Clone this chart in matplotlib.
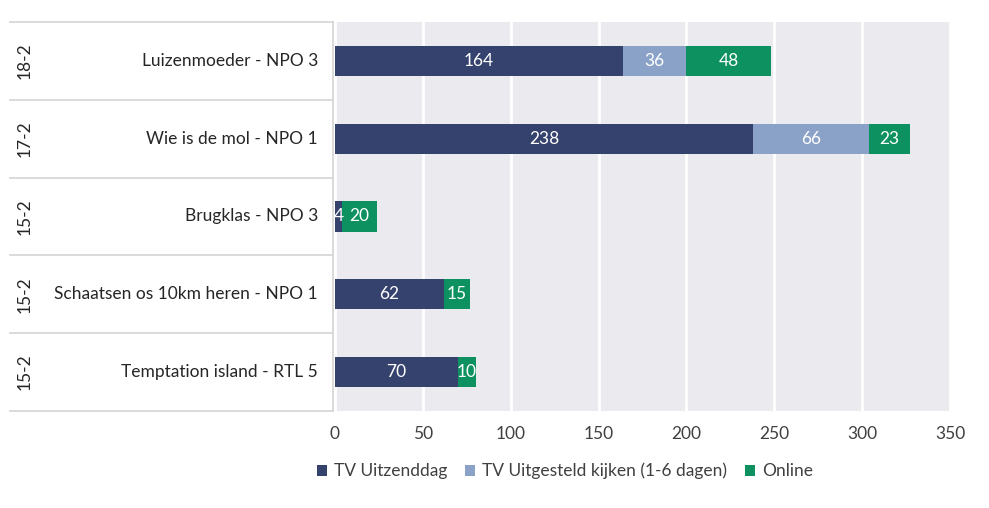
import matplotlib.pyplot as plt
from matplotlib.transforms import blended_transform_factory
from matplotlib.lines import Line2D

# data (top to bottom)
programmas = ["Luizenmoeder - NPO 3", "Wie is de mol - NPO 1", "Brugklas - NPO 3",
              "Schaatsen os 10km heren - NPO 1", "Temptation island - RTL 5"]
datums = ["18-2", "17-2", "15-2", "15-2", "15-2"]
uitzenddag = [164, 238, 4, 62, 70]
uitgesteld = [36, 66, 0, 0, 0]
online = [48, 23, 20, 15, 10]

series = ["TV Uitzenddag", "TV Uitgesteld kijken (1-6 dagen)", "Online"]
kleuren = ["#36426e", "#8aa2c8", "#0e9160"]

plt.rcParams['font.family'] = ['Lato', 'DejaVu Sans']

fig = plt.figure(figsize=(9.89, 5.08), dpi=100)
ax = fig.add_axes([0.3387, 0.191, 0.6219, 0.7657])
ax.set_facecolor("#ebebef")

n = len(programmas)
ypos = list(range(n))[::-1]
links = [0] * n
for waarden, naam, kleur in zip([uitzenddag, uitgesteld, online], series, kleuren):
    ax.barh(ypos, waarden, left=links, height=0.39, color=kleur, label=naam, zorder=3)
    for y, l, w in zip(ypos, links, waarden):
        if w > 0:
            ax.text(l + w / 2, y, str(w), ha="center", va="center", color="white",
                    fontsize=12.5, zorder=4)
    links = [a + b for a, b in zip(links, waarden)]

ax.set_xlim(0, 350)
ax.set_ylim(-0.5, n - 0.5)
ax.set_xticks(range(0, 351, 50))
ax.xaxis.grid(True, color="white", linewidth=2, zorder=1)
ax.set_yticks([])
ax.tick_params(axis="x", length=0, labelsize=12.5, labelcolor="#404040", pad=11)
for s in ax.spines.values():
    s.set_visible(False)

# left table with labels
tr = blended_transform_factory(fig.transFigure, ax.transData)
for y, prog, dat in zip(ypos, programmas, datums):
    fig.text(318 / 989, 0, prog, transform=tr, ha="right", va="center", fontsize=12.5,
             color="#262626").set_y(y)
    fig.text(25 / 989, 0, dat, transform=tr, ha="center", va="center", fontsize=12.5,
             color="#262626", rotation=90).set_y(y)
for grens in [y + 0.5 for y in range(-1, n)]:
    fig.add_artist(Line2D([10 / 989, 333 / 989], [grens, grens], transform=tr,
                          color="#d4d4d4", linewidth=1.2))
fig.add_artist(Line2D([333 / 989, 333 / 989], [-0.5, n - 0.5], transform=tr,
                      color="#d4d4d4", linewidth=1.2))

fig.legend(loc="center", bbox_to_anchor=(565 / 989, 1 - 471 / 508), ncol=3, frameon=False,
           fontsize=12.5, handlelength=0.6, handleheight=0.6, handletextpad=0.4,
           columnspacing=1.0, labelcolor="#404040")

fig.savefig("out.png", dpi=100)
